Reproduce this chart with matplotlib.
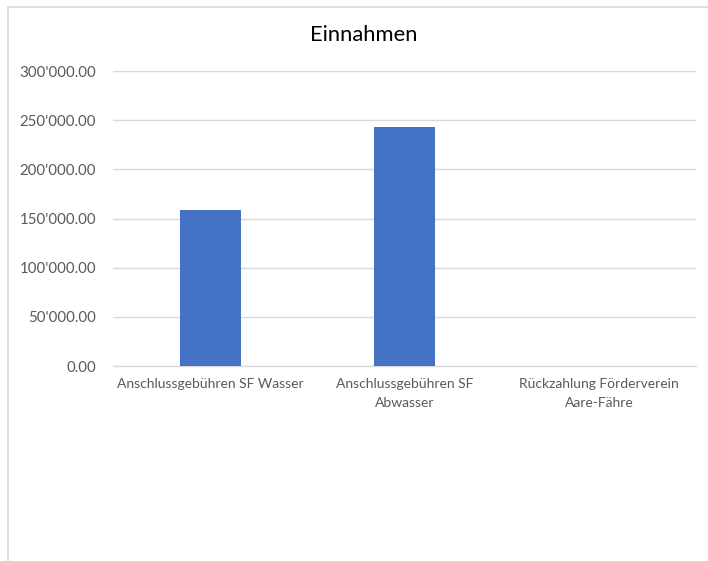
import matplotlib
matplotlib.use("Agg")
import matplotlib.pyplot as plt
from matplotlib.ticker import FuncFormatter, MultipleLocator
from matplotlib.patches import Rectangle

categories = ["Anschlussgebühren SF Wasser", "Anschlussgebühren SF\nAbwasser", "Rückzahlung Förderverein\nAare-Fähre"]
values = [158700, 242600, 0]
title = "Einnahmen"

plt.rcParams['font.family'] = ['Lato', 'DejaVu Sans']

W, H = 708, 561
fig = plt.figure(figsize=(W/100, H/100), dpi=100)
fig.patch.set_facecolor("white")

# chart area border
fig.patches.append(Rectangle((8/W, -0.01), 1.0, 1 - 7/H + 0.01, transform=fig.transFigure,
                             fill=False, edgecolor="#d9d9d9", linewidth=1.2, zorder=0))

ax = fig.add_axes([113/W, 1 - 366/H, (696 - 113)/W, (366 - 71)/H])
x = list(range(len(categories)))
ax.bar(x, values, width=0.315, color="#4472C4", zorder=3)
ax.set_xlim(-0.5, len(categories) - 0.5)
ax.set_ylim(0, 300000)
ax.yaxis.set_major_locator(MultipleLocator(50000))
ax.yaxis.set_major_formatter(FuncFormatter(lambda v, p: "{:,.2f}".format(v).replace(",", "'")))
ax.grid(axis="y", color="#d9d9d9", linewidth=1.0, zorder=0)
for s in ["top", "right", "left"]:
    ax.spines[s].set_visible(False)
ax.spines["bottom"].set_color("#d9d9d9")
ax.spines["bottom"].set_linewidth(1.0)
ax.set_xticks(x)
ax.set_xticklabels(categories, fontsize=10, color="#595959", linespacing=1.65)
ax.tick_params(axis="x", length=0, pad=9)
ax.tick_params(axis="y", length=0, pad=12, labelsize=10.8, labelcolor="#595959")

fig.text(364/W, 1 - 35/H, title, ha="center", va="center", fontsize=15.8, color="#000000")

fig.savefig("out.png", dpi=100)
